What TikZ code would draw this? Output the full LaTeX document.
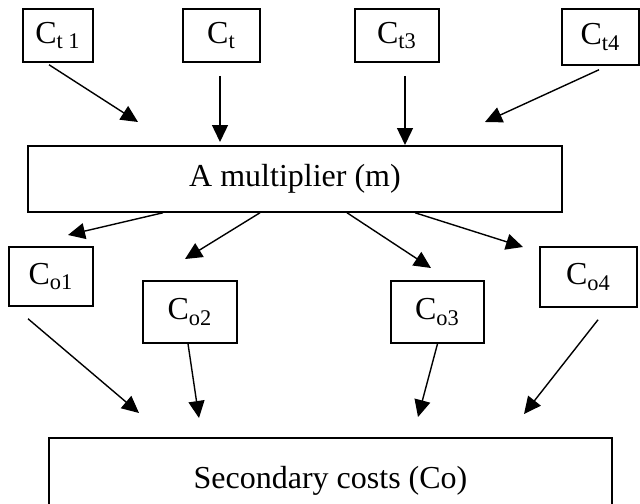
\documentclass[tikz,border=0pt]{standalone}
\usepackage{fontspec}
\setmainfont{Liberation Serif}
\usetikzlibrary{arrows.meta,calc}

\begin{document}
\begin{tikzpicture}[x=0.5pt,y=-0.5pt,
        costbox/.style={draw, line width=0.75pt, inner sep=0pt, font=\fontsize{16}{19}\selectfont},
        flow/.style={-{Triangle[length=8.5pt,width=8pt]}, line width=0.7pt}]

            \useasboundingbox (0,0) rectangle (640,503);

            % Input costs (top row)
            \node[costbox, minimum width=35pt, minimum height=26.5pt] (ct1) at (58,35.5) {C\textsubscript{t 1}};
            \node[costbox, minimum width=38.5pt, minimum height=26.5pt] (ct2) at (221.5,35.5) {C\textsubscript{t}};
            \node[costbox, minimum width=42pt, minimum height=26.5pt] (ct3) at (397,35.5) {C\textsubscript{t3}};
            \node[costbox, minimum width=38.5pt, minimum height=28pt] (ct4) at (600.5,37) {C\textsubscript{t4}};

            % Multiplier
            \node[costbox, minimum width=267pt, minimum height=33pt] (mult) at (295,179) {A multiplier (m)};

            % Output costs
            \node[costbox, minimum width=42pt, minimum height=29.5pt] (co1) at (51,276.5) {C\textsubscript{o1}};
            \node[costbox, minimum width=47pt, minimum height=31pt] (co2) at (190,312) {C\textsubscript{o2}};
            \node[costbox, minimum width=46.5pt, minimum height=31pt] (co3) at (437.5,312) {C\textsubscript{o3}};
            \node[costbox, minimum width=48.5pt, minimum height=30pt] (co4) at (588.5,277) {C\textsubscript{o4}};

            % Secondary costs (runs off the bottom edge)
            \node[costbox, minimum width=281.5pt, minimum height=43pt] (sec) at (330.5,481) {Secondary costs (Co)};

            % Arrow tips
            \coordinate (in1) at (138,122);
            \coordinate (in2) at (220,142);
            \coordinate (in3) at (405,145);
            \coordinate (in4) at (485,122);
            \coordinate (out1) at (68,235);
            \coordinate (out2) at (185,259);
            \coordinate (out3) at (431,268);
            \coordinate (out4) at (523,247);
            \coordinate (sec1) at (139,413);
            \coordinate (sec2) at (199,418);
            \coordinate (sec3) at (418,417);
            \coordinate (sec4) at (524,414);

            % Inputs to multiplier
            \draw[flow] ($(ct1.south)+(-9,2)$) -- (in1);
            \draw[flow] ($(ct2.south)+(-1.5,13)$) -- (in2);
            \draw[flow] ($(ct3.south)+(8,13)$) -- (in3);
            \draw[flow] ($(ct4.south)+(-1.5,4)$) -- (in4);

            % Multiplier to outputs
            \draw[flow] ($(mult.south)+(-132,0)$) -- (out1);
            \draw[flow] ($(mult.south)+(-35,0)$) -- (out2);
            \draw[flow] ($(mult.south)+(52,0)$) -- (out3);
            \draw[flow] ($(mult.south)+(120,0)$) -- (out4);

            % Outputs to secondary costs
            \draw[flow] ($(co1.south)+(-23,12)$) -- (sec1);
            \draw[flow] ($(co2.south)+(-2,0)$) -- (sec2);
            \draw[flow] (co3.south) -- (sec3);
            \draw[flow] ($(co4.south)+(9.5,12)$) -- (sec4);

        \end{tikzpicture}
\end{document}
